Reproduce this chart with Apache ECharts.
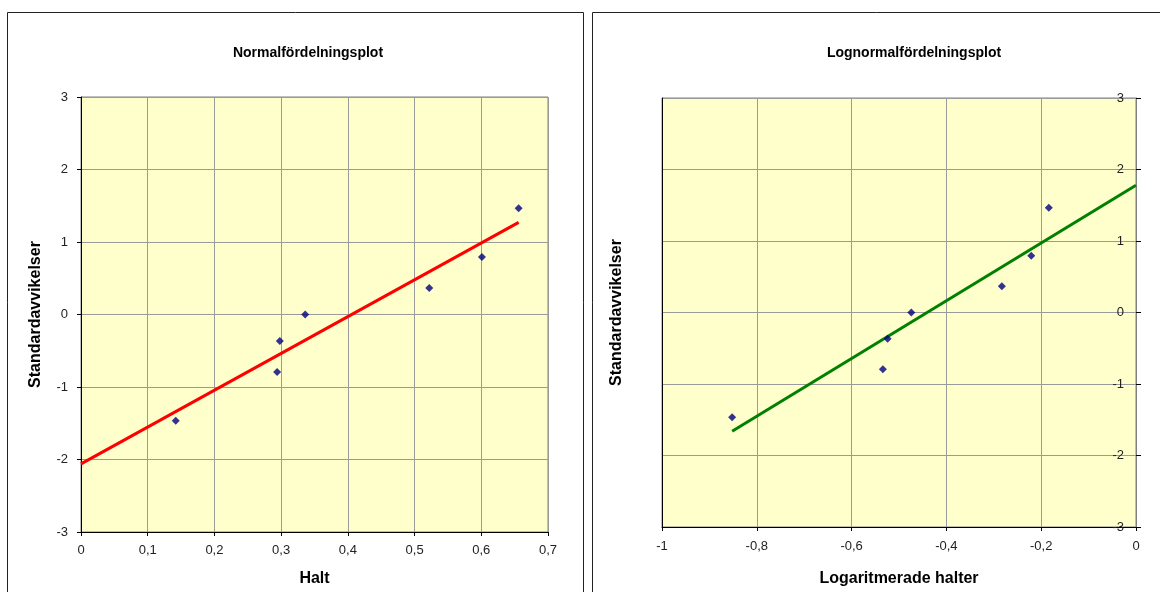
<!DOCTYPE html>
<html>
<head>
<meta charset="utf-8">
<script src="https://cdn.jsdelivr.net/npm/echarts@6/dist/echarts.min.js"></script>
<style>
html,body{margin:0;padding:0;background:#fff;}
#c{width:1160px;height:592px;}
</style>
</head>
<body>
<div id="c"></div>
<script>
// Data
var haltValues = [0.142, 0.294, 0.298, 0.336, 0.522, 0.601, 0.656];
var logHalter = [-0.852, -0.534, -0.524, -0.474, -0.283, -0.221, -0.184];
var zScores = [-1.465, -0.792, -0.366, 0, 0.366, 0.792, 1.465];
var normalLineX = [0, 0.656];
var normalLineY = [-2.06, 1.27];
var logLineX = [-0.852, 0];
var logLineY = [-1.66, 1.78];
var xTicksNormal = [0, 0.1, 0.2, 0.3, 0.4, 0.5, 0.6, 0.7];
var xTicksLog = [-1, -0.8, -0.6, -0.4, -0.2, 0];

function pairs(xs, ys) { return xs.map(function (x, i) { return [x, ys[i]]; }); }
function commaFmt(v) { return String(Math.round(v * 10) / 10).replace('.', ','); }

var FONT = 'Liberation Sans, Arial, sans-serif';
var chart = echarts.init(document.getElementById('c'), null, { renderer: 'canvas' });

var gridLine = { show: true, lineStyle: { color: '#9a9a9a', width: 1 } };
var labelStyle = { color: '#222', fontFamily: FONT, fontSize: 13 };
var nameStyle = { color: '#000', fontFamily: FONT, fontSize: 16, fontWeight: 'bold' };

chart.setOption({
  animation: false,
  backgroundColor: '#fff',
  title: [
    { text: 'Normalfördelningsplot', left: 303, top: 41, textAlign: 'center',
      textStyle: { fontFamily: FONT, fontSize: 14, fontWeight: 'bold', color: '#000' } },
    { text: 'Lognormalfördelningsplot', left: 909, top: 41, textAlign: 'center',
      textStyle: { fontFamily: FONT, fontSize: 14, fontWeight: 'bold', color: '#000' } }
  ],
  graphic: [
    { type: 'rect', shape: { x: 7.5, y: 12.5, width: 576, height: 620 },
      style: { fill: 'none', stroke: '#222', lineWidth: 1 }, silent: true },
    { type: 'rect', shape: { x: 592.5, y: 12.5, width: 620, height: 620 },
      style: { fill: 'none', stroke: '#222', lineWidth: 1 }, silent: true }
  ],
  grid: [
    { left: 81, top: 97, width: 467, height: 440, show: true,
      backgroundColor: '#FFFFCC', borderColor: '#808080', borderWidth: 1 },
    { left: 662, top: 98, width: 474, height: 433, show: true,
      backgroundColor: '#FFFFCC', borderColor: '#808080', borderWidth: 1 }
  ],
  xAxis: [
    { gridIndex: 0, type: 'value', min: xTicksNormal[0], max: xTicksNormal[xTicksNormal.length - 1], interval: 0.1,
      axisLine: { show: true, onZero: false, lineStyle: { color: '#000' } },
      axisTick: { show: true, length: 4, lineStyle: { color: '#000' } },
      axisLabel: Object.assign({ margin: 12, formatter: commaFmt }, labelStyle),
      splitLine: gridLine,
      name: 'Halt', nameLocation: 'middle', nameGap: 39, nameTextStyle: nameStyle },
    { gridIndex: 1, type: 'value', min: xTicksLog[0], max: xTicksLog[xTicksLog.length - 1], interval: 0.2,
      axisLine: { show: true, onZero: false, lineStyle: { color: '#000' } },
      axisTick: { show: true, length: 4, lineStyle: { color: '#000' } },
      axisLabel: Object.assign({ margin: 13, formatter: commaFmt }, labelStyle),
      splitLine: gridLine,
      name: 'Logaritmerade halter', nameLocation: 'middle', nameGap: 44, nameTextStyle: nameStyle }
  ],
  yAxis: [
    { gridIndex: 0, type: 'value', min: -3, max: 3, interval: 1,
      axisLine: { show: true, onZero: false, lineStyle: { color: '#000' } },
      axisTick: { show: true, length: 4, lineStyle: { color: '#000' } },
      axisLabel: Object.assign({ margin: 13 }, labelStyle),
      splitLine: gridLine,
      name: 'Standardavvikelser', nameLocation: 'middle', nameGap: 37, nameTextStyle: nameStyle },
    { gridIndex: 1, type: 'value', min: -3, max: 3, interval: 1, position: 'right',
      axisLine: { show: true, onZero: false, lineStyle: { color: '#808080' } },
      axisTick: { show: true, length: 5, lineStyle: { color: '#000' } },
      axisLabel: Object.assign({ margin: 12, inside: true }, labelStyle),
      splitLine: gridLine },
    { gridIndex: 1, type: 'value', min: -3, max: 3, interval: 1, position: 'left',
      axisLine: { show: true, onZero: false, lineStyle: { color: '#000' } },
      axisTick: { show: false }, axisLabel: { show: false }, splitLine: { show: false },
      name: 'Standardavvikelser', nameLocation: 'middle', nameGap: 37, nameTextStyle: nameStyle }
  ],
  series: [
    { type: 'line', xAxisIndex: 0, yAxisIndex: 0, data: pairs(normalLineX, normalLineY),
      symbol: 'none', lineStyle: { color: '#FF0000', width: 3 }, z: 2 },
    { type: 'scatter', xAxisIndex: 0, yAxisIndex: 0, data: pairs(haltValues, zScores),
      symbol: 'diamond', symbolSize: 8, itemStyle: { color: '#000080' }, z: 3 },
    { type: 'line', xAxisIndex: 1, yAxisIndex: 1, data: pairs(logLineX, logLineY),
      symbol: 'none', lineStyle: { color: '#008000', width: 3 }, z: 2 },
    { type: 'scatter', xAxisIndex: 1, yAxisIndex: 1, data: pairs(logHalter, zScores),
      symbol: 'diamond', symbolSize: 8, itemStyle: { color: '#000080' }, z: 3 }
  ]
});
</script>
</body>
</html>
